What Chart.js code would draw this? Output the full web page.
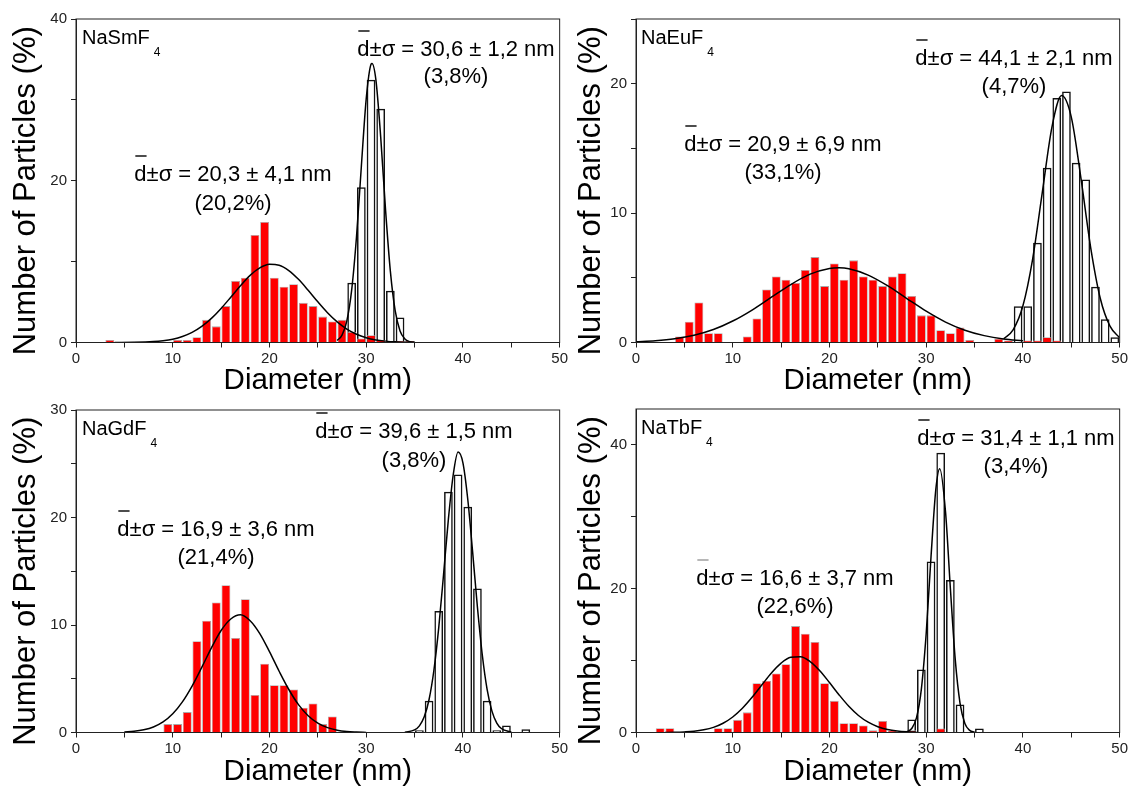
<!DOCTYPE html>
<html>
<head>
<meta charset="utf-8">
<script src="https://cdn.jsdelivr.net/npm/chart.js@4.4.1/dist/chart.umd.min.js"></script>
<style>
  body { margin: 0; background: #fff; width: 1133px; height: 796px; position: relative; overflow: hidden; }
  .panel { position: absolute; }
</style>
</head>
<body>
<div class="panel" style="left:0;top:0;width:570px;height:400px"><canvas id="sm"></canvas></div>
<div class="panel" style="left:560px;top:0;width:570px;height:400px"><canvas id="eu"></canvas></div>
<div class="panel" style="left:0;top:390px;width:570px;height:406px"><canvas id="gd"></canvas></div>
<div class="panel" style="left:560px;top:390px;width:570px;height:406px"><canvas id="tb"></canvas></div>
<script>
// histogram bins: centre of each 1 nm bin, value in %
// NaSmF4
const smRedBin  = [3.5,10.5,11.5,12.5,13.5,14.5,15.5,16.5,17.5,18.5,19.5,20.5,21.5,22.5,23.5,24.5,25.5,26.5,27.5,28.5,29.5,30.5,31.5,32.5,33.5,34.5];
const smRedPct  = [0.3,0.3,0.3,0.66,2.8,2.0,4.5,7.6,8.0,13.3,14.9,8.0,6.9,7.2,4.9,4.5,3.2,2.6,2.8,1.3,0.5,0.9,0.3,0.2,0.2,0.2];
const smOpenBin = [28.5,29.5,30.5,31.5,32.5,33.5];
const smOpenPct = [7.4,19.2,32.5,28.9,6.4,3.1];
const smFitRedX = [4,6,8,9,10,11,12,13,14,15,16,17,18,19,20,21,22,23,24,25,26,27,28,29,30,31,32,33,34,35];
const smFitRedY = [0,0.02,0.11,0.22,0.41,0.74,1.25,1.99,2.98,4.21,5.6,7.02,8.3,9.22,9.67,9.56,8.9,7.81,6.46,5.03,3.69,2.55,1.66,1.02,0.59,0.32,0.17,0.08,0.04,0.02];
const smFitOpenX = [27,27.5,28,28.5,29,29.5,30,30.5,30.6,31,31.5,32,32.5,33,33.5,34,34.5,35];
const smFitOpenY = [0.26,0.91,2.68,6.5,13.1,21.8,30.1,34.4,34.5,32.5,25.4,16.4,8.8,3.9,1.43,0.44,0.11,0.02];

// NaEuF4
const euRedBin  = [4.5,5.5,6.5,7.5,8.5,11.5,12.5,13.5,14.5,15.5,16.5,17.5,18.5,19.5,20.5,21.5,22.5,23.5,24.5,25.5,26.5,27.5,28.5,29.5,30.5,31.5,32.5,33.5,34.5,37.5,38.5,40.5,41.5,42.5,43.5];
const euRedPct  = [0.46,1.6,3.1,0.72,0.72,0.46,1.86,4.1,5.1,4.85,4.6,5.6,6.6,4.36,6.1,4.85,6.35,5.1,4.85,4.36,5.1,5.35,3.6,2.1,2.1,0.95,0.72,1.15,0.2,0.3,0.15,0.15,0.15,0.4,0.15];
const euOpenBin = [39.5,40.5,41.5,42.5,43.5,44.5,45.5,46.5,47.5,48.5,49.5];
const euOpenPct = [2.8,2.8,7.7,13.5,18.9,19.4,13.9,12.6,4.3,1.8,0.4];
const euFitRedX = [0,2,4,6,8,10,12,14,16,18,20,21,22,24,26,28,30,32,34,36,38,40];
const euFitRedY = [0.06,0.14,0.29,0.56,1.0,1.66,2.51,3.5,4.48,5.28,5.72,5.77,5.7,5.21,4.39,3.4,2.42,1.58,0.95,0.53,0.27,0.13];
const euFitOpenX = [38,39,40,41,42,43,44,45,46,47,48,49,50];
const euFitOpenY = [0.28,1.0,2.84,6.43,11.58,16.65,19.08,17.42,12.68,7.36,3.4,1.26,0.37];

// NaGdF4
const gdRedBin  = [9.5,10.5,11.5,12.5,13.5,14.5,15.5,16.5,17.5,18.5,19.5,20.5,21.5,22.5,23.5,24.5,25.5,26.5];
const gdRedPct  = [0.78,0.78,1.9,8.5,10.4,12.1,13.7,8.8,12.4,3.5,6.4,4.4,4.4,4.0,2.3,2.7,0.78,1.5];
const gdOpenBin = [35.5,36.5,37.5,38.5,39.5,40.5,41.5,42.5,43.5,44.5,46.5];
const gdOpenPct = [0.2,2.95,11.3,22.4,24.0,21.0,13.4,2.95,0.2,0.65,0.3];
const gdFitRedX = [5,6,7,8,9,10,11,12,13,14,15,16,17,18,19,20,21,22,23,24,25,26,27,28,29,30];
const gdFitRedY = [0.05,0.11,0.25,0.51,0.98,1.74,2.85,4.32,6.06,7.88,9.49,10.56,10.95,10.4,9.2,7.52,5.7,4.0,2.59,1.56,0.87,0.45,0.21,0.09,0.04,0.01];
const gdFitOpenX = [34,35,35.5,36,36.5,37,37.5,38,38.5,39,39.5,40,40.5,41,41.5,42,42.5,43,43.5,44,45];
const gdFitOpenY = [0.02,0.24,0.62,1.46,3.07,5.79,9.76,14.72,19.87,24.0,26.1,25.09,21.7,16.82,11.65,7.23,4.01,1.99,0.88,0.35,0.04];

// NaTbF4
const tbRedBin  = [2.5,3.5,8.5,9.5,10.5,11.5,12.5,13.5,14.5,15.5,16.5,17.5,18.5,19.5,20.5,21.5,22.5,23.5,24.5,25.5,26.5,28.5,31.5];
const tbRedPct  = [0.6,0.6,0.6,0.6,1.76,2.8,6.85,7.2,8.2,9.5,14.8,13.75,12.6,6.85,4.4,1.3,1.3,0.97,0.3,1.6,0.25,0.3,0.55];
const tbOpenBin = [28.5,29.5,30.5,31.5,32.5,33.5,35.5];
const tbOpenPct = [1.8,8.75,23.8,38.9,21.2,3.9,0.55];
const tbFitRedX = [3,4,5,6,7,8,9,10,11,12,13,14,15,16,17,18,19,20,21,22,23,24,25,26,27,28,29];
const tbFitRedY = [0.01,0.03,0.08,0.17,0.37,0.71,1.29,2.16,3.37,4.89,6.6,8.28,9.65,10.46,10.54,9.87,8.59,6.95,5.23,3.65,2.37,1.43,0.81,0.42,0.2,0.09,0.04];
const tbFitOpenX = [28,28.5,29,29.5,30,30.5,31,31.4,32,32.5,33,33.5,34,34.5,35];
const tbFitOpenY = [0.11,0.55,2.06,6.04,13.77,24.48,33.88,36.7,30.65,20.04,10.2,4.05,1.25,0.3,0.06];

const FONT = '"Liberation Sans", Arial, sans-serif';
Chart.defaults.font.family = FONT;

const pts = (xs, ys) => xs.map((x, i) => ({ x: x, y: ys[i] }));

// frame, y title and in-plot text (sample name, fit results)
const panelText = {
  id: 'panelText',
  afterDraw(chart, args, o) {
    const ctx = chart.ctx, a = chart.chartArea;
    ctx.save();
    ctx.strokeStyle = '#222';
    ctx.lineWidth = 1;
    ctx.strokeRect(a.left, a.top, a.right - a.left, a.bottom - a.top);

    // y axis title, sits a little below the middle of the axis
    ctx.save();
    ctx.translate(o.yTitleX, (a.top + a.bottom) / 2 + 10);
    ctx.rotate(-Math.PI / 2);
    ctx.fillStyle = '#000';
    ctx.font = '31px ' + FONT;
    ctx.textAlign = 'center';
    ctx.textBaseline = 'middle';
    ctx.fillText('Number of Particles (%)', 0, 0);
    ctx.restore();

    ctx.fillStyle = '#000';
    ctx.textBaseline = 'alphabetic';
    ctx.textAlign = 'left';
    ctx.font = '20px ' + FONT;
    ctx.fillText(o.name, o.nameX, o.nameY);
    const nw = ctx.measureText(o.name).width;
    ctx.font = '12px ' + FONT;
    ctx.fillText(o.sub, o.nameX + nw + 4, o.nameY + 12);

    ctx.font = '22px ' + FONT;
    o.fits.forEach(f => {
      const line = 'd\u00b1\u03c3 = ' + f.value;
      const w = ctx.measureText(line).width;
      const x0 = f.cx - w / 2;
      ctx.textAlign = 'left';
      ctx.fillText(line, x0, f.y1);
      const dw = ctx.measureText('d').width;
      ctx.beginPath();
      ctx.strokeStyle = f.barColor || '#000';
      ctx.lineWidth = 1.4;
      ctx.moveTo(x0 + 1, f.y1 - 25);
      ctx.lineTo(x0 + dw, f.y1 - 25);
      ctx.stroke();
      ctx.textAlign = 'center';
      ctx.fillText(f.pct, f.cx, f.y2);
    });
    ctx.restore();
  }
};

function histogram(id, o) {
  const lineStyle = { type: 'line', borderColor: '#000', borderWidth: 1.5, pointRadius: 0, fill: false, cubicInterpolationMode: 'monotone', order: 0 };
  return new Chart(document.getElementById(id), {
    type: 'bar',
    data: {
      datasets: [
        Object.assign({ data: pts(o.fitRedX, o.fitRedY) }, lineStyle),
        Object.assign({ data: pts(o.fitOpenX, o.fitOpenY) }, lineStyle),
        { data: pts(o.redBin, o.redPct), backgroundColor: '#ff0000', borderColor: '#a8a8a8', borderWidth: 0.8,
          grouped: false, barPercentage: 0.92, categoryPercentage: 1, order: 1 },
        { data: pts(o.openBin, o.openPct), backgroundColor: 'rgba(255,255,255,0)', borderColor: '#111', borderWidth: 1.5,
          grouped: false, barPercentage: 0.9, categoryPercentage: 1, order: 2 }
      ]
    },
    plugins: [panelText],
    options: {
      responsive: true,
      maintainAspectRatio: false,
      animation: false,
      layout: { padding: { top: o.padTop, right: 6, left: 0, bottom: 0 } },
      plugins: {
        legend: { display: false },
        tooltip: { enabled: false },
        panelText: o.text
      },
      scales: {
        x: {
          type: 'linear', min: 0, max: 50, offset: false,
          ticks: { stepSize: 5, autoSkip: false, maxRotation: 0, padding: 2, color: '#222', font: { size: 15 },
                   callback: v => (v % 10 === 0 ? v : '') },
          grid: { drawOnChartArea: false, drawTicks: true, tickLength: 5, color: '#222', offset: false },
          border: { color: '#222', width: 1 },
          title: { display: true, text: 'Diameter (nm)', color: '#000', font: { size: 29.5 }, padding: { top: 0, bottom: o.xTitlePad } },
          afterFit: s => { s.height = o.xAxisH; }
        },
        y: {
          min: 0, max: o.yMax,
          ticks: { stepSize: o.yStep, includeBounds: false, padding: 4, color: '#222', font: { size: 15 },
                   callback: v => (v % o.yLabelEvery === 0 ? v : '') },
          grid: { drawOnChartArea: false, drawTicks: true, tickLength: 5, color: '#222' },
          border: { color: '#222', width: 1 },
          afterFit: s => { s.width = 76; }
        }
      }
    }
  });
}

histogram('sm', {
  redBin: smRedBin, redPct: smRedPct, openBin: smOpenBin, openPct: smOpenPct,
  fitRedX: smFitRedX, fitRedY: smFitRedY, fitOpenX: smFitOpenX, fitOpenY: smFitOpenY,
  yMax: 40, yStep: 10, yLabelEvery: 20, padTop: 19, xAxisH: 57.5, xTitlePad: 1,
  text: { yTitleX: 26, name: 'NaSmF', sub: '4', nameX: 82, nameY: 44,
          fits: [ { value: '30,6 \u00b1 1,2 nm', pct: '(3,8%)', cx: 456, y1: 56, y2: 83 },
                  { value: '20,3 \u00b1 4,1 nm', pct: '(20,2%)', cx: 233, y1: 181, y2: 210 } ] }
});

histogram('eu', {
  redBin: euRedBin, redPct: euRedPct, openBin: euOpenBin, openPct: euOpenPct,
  fitRedX: euFitRedX, fitRedY: euFitRedY, fitOpenX: euFitOpenX, fitOpenY: euFitOpenY,
  yMax: 25, yStep: 5, yLabelEvery: 10, padTop: 19, xAxisH: 57.5, xTitlePad: 1,
  text: { yTitleX: 31, name: 'NaEuF', sub: '4', nameX: 81, nameY: 44,
          fits: [ { value: '44,1 \u00b1 2,1 nm', pct: '(4,7%)', cx: 454, y1: 65, y2: 93 },
                  { value: '20,9 \u00b1 6,9 nm', pct: '(33,1%)', cx: 223, y1: 151, y2: 179 } ] }
});

histogram('gd', {
  redBin: gdRedBin, redPct: gdRedPct, openBin: gdOpenBin, openPct: gdOpenPct,
  fitRedX: gdFitRedX, fitRedY: gdFitRedY, fitOpenX: gdFitOpenX, fitOpenY: gdFitOpenY,
  yMax: 30, yStep: 5, yLabelEvery: 10, padTop: 20, xAxisH: 63.5, xTitlePad: 6,
  text: { yTitleX: 26, name: 'NaGdF', sub: '4', nameX: 82, nameY: 45,
          fits: [ { value: '39,6 \u00b1 1,5 nm', pct: '(3,8%)', cx: 414, y1: 48, y2: 77 },
                  { value: '16,9 \u00b1 3,6 nm', pct: '(21,4%)', cx: 216, y1: 146, y2: 174 } ] }
});

histogram('tb', {
  redBin: tbRedBin, redPct: tbRedPct, openBin: tbOpenBin, openPct: tbOpenPct,
  fitRedX: tbFitRedX, fitRedY: tbFitRedY, fitOpenX: tbFitOpenX, fitOpenY: tbFitOpenY,
  yMax: 45, yStep: 10, yLabelEvery: 20, padTop: 19, xAxisH: 63.5, xTitlePad: 6,
  text: { yTitleX: 31, name: 'NaTbF', sub: '4', nameX: 81, nameY: 44,
          fits: [ { value: '31,4 \u00b1 1,1 nm', pct: '(3,4%)', cx: 456, y1: 55, y2: 83 },
                  { value: '16,6 \u00b1 3,7 nm', pct: '(22,6%)', cx: 235, y1: 195, y2: 223, barColor: '#999' } ] }
});
</script>
</body>
</html>
